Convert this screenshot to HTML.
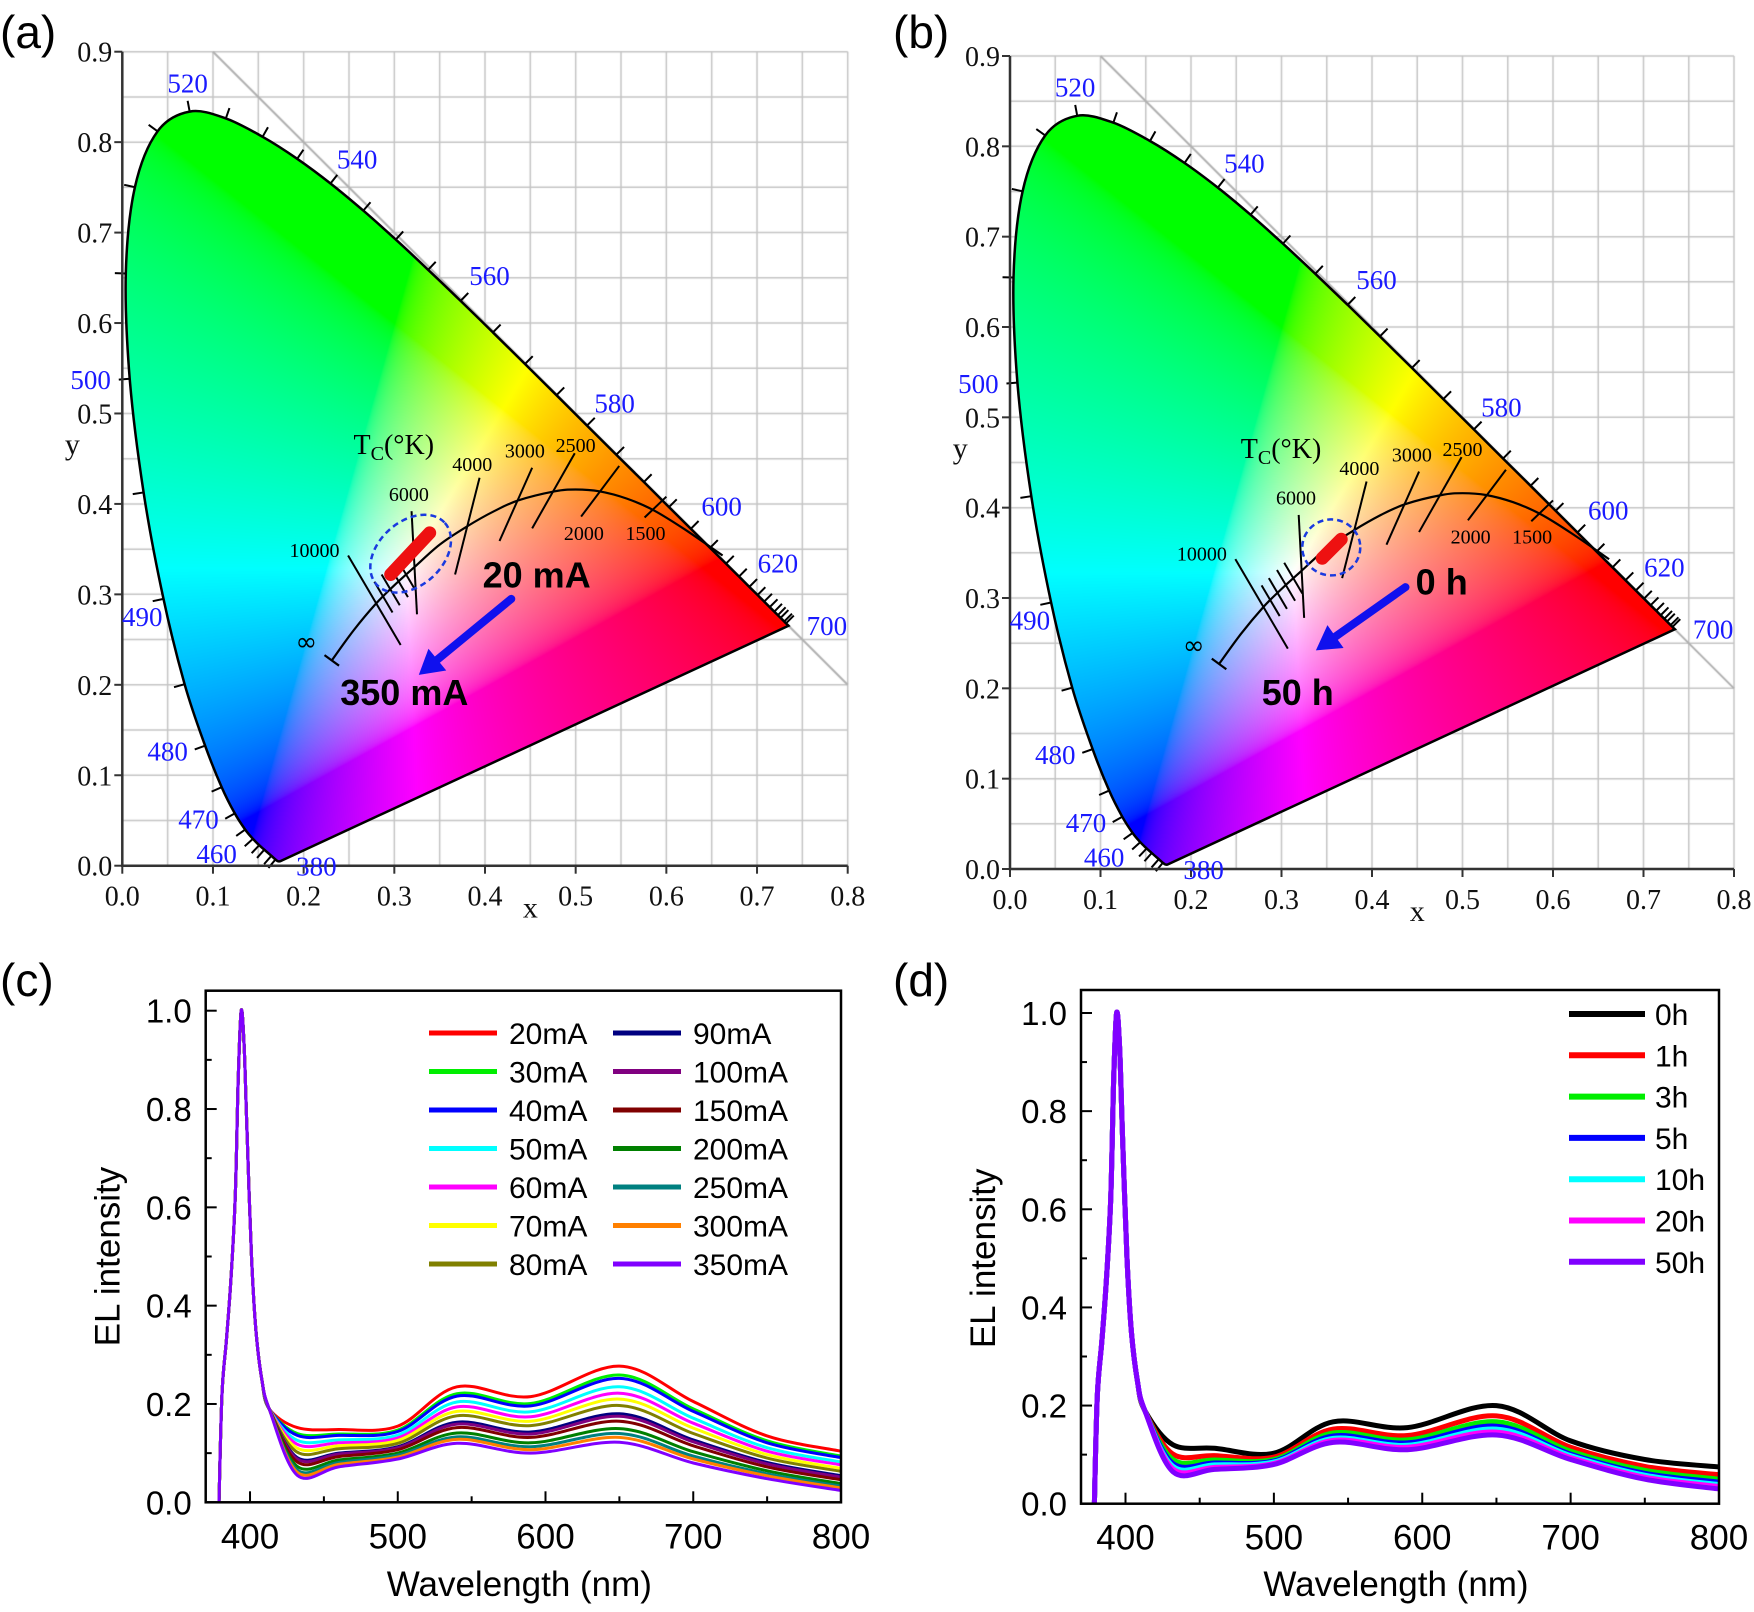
<!DOCTYPE html>
<html><head><meta charset="utf-8">
<style>
html,body{margin:0;padding:0;background:#fff;}
#wrap{position:relative;width:1754px;height:1612px;overflow:hidden;}
#cv{position:absolute;left:0;top:0;}
#sv{position:absolute;left:0;top:0;}
</style></head>
<body>
<div id="wrap">
<canvas id="cv" width="1754" height="1612"></canvas>
<svg id="sv" width="1754" height="1612" xmlns="http://www.w3.org/2000/svg"></svg>
</div>
<script>
// ---------- data: CIE spectral locus ----------
const locusWl = [380,400,420,430,440,450,455,460,465,470,475,480,485,490,495,500,505,510,515,520,525,530,535,540,545,550,555,560,565,570,575,580,585,590,595,600,605,610,615,620,625,630,635,640,645,650,660,670,680,700];
const locusX = [.1741,.1733,.1714,.1689,.1644,.1566,.1510,.1440,.1355,.1241,.1096,.0913,.0687,.0454,.0235,.0082,.0039,.0139,.0389,.0743,.1142,.1547,.1929,.2296,.2658,.3016,.3373,.3731,.4087,.4441,.4788,.5125,.5448,.5752,.6029,.6270,.6482,.6658,.6801,.6915,.7006,.7079,.7140,.7190,.7230,.7260,.7300,.7320,.7334,.7347];
const locusY = [.0050,.0048,.0051,.0069,.0109,.0177,.0227,.0297,.0399,.0578,.0868,.1327,.2007,.2950,.4127,.5384,.6548,.7502,.8120,.8338,.8262,.8059,.7816,.7543,.7243,.6923,.6589,.6245,.5896,.5547,.5202,.4866,.4544,.4242,.3965,.3725,.3514,.3340,.3197,.3083,.2993,.2920,.2859,.2809,.2770,.2740,.2700,.2680,.2666,.2653];
const wlLabels = ['520','540','560','580','600','620','700','500','490','480','470','460','380'];
const wlLabelX = [0.072,0.259,0.405,0.543,0.661,0.723,0.777,-0.035,0.022,0.050,0.084,0.104,0.214];
const wlLabelY = [0.865,0.781,0.652,0.511,0.397,0.334,0.265,0.537,0.275,0.126,0.051,0.013,-0.001];
const planckX = [0.231,0.255,0.280,0.300,0.322,0.350,0.380,0.410,0.437,0.477,0.500,0.526,0.556,0.586,0.620,0.662];
const planckY = [0.227,0.260,0.290,0.310,0.330,0.355,0.375,0.392,0.404,0.414,0.416,0.414,0.406,0.393,0.372,0.343];
const isoLabels = ['10000','6000','4000','3000','2500','2000','1500'];
const isoX1 = [0.249,0.319,0.394,0.452,0.499,0.548,0.600];
const isoY1 = [0.343,0.392,0.429,0.440,0.456,0.442,0.408];
const isoX2 = [0.307,0.325,0.367,0.416,0.452,0.506,0.576];
const isoY2 = [0.244,0.278,0.322,0.359,0.373,0.386,0.385];
const isoLabelX = [0.212,0.316,0.386,0.444,0.500,0.509,0.577];
const isoLabelY = [0.349,0.411,0.444,0.459,0.465,0.368,0.368];
const smallIsoX = [0.288,0.296,0.305,0.313];
const smallIsoY = [0.297,0.305,0.314,0.322];
const barA = [0.296,0.322,0.339,0.368];
const barB = [0.345,0.344,0.366,0.365];
const ellA = [0.318,0.345];
const ellB = [0.355,0.356];
const arrowA = [0.429,0.295,0.327,0.211];
const arrowB = [0.437,0.312,0.338,0.242];

// ---------- data: spectra ----------
const peakWl = [379,381,384,387,390,392,394,396,398,401,404,408,413];
const peakVals = [0,0.22,0.33,0.45,0.62,0.86,1.0,0.93,0.75,0.50,0.35,0.25,0.19];
const sWl = [432,460,500,540,590,650,700,750,800];
const cLabels = ['20mA','30mA','40mA','50mA','60mA','70mA','80mA','90mA','100mA','150mA','200mA','250mA','300mA','350mA'];
const cColors = ['#ff0000','#00ee00','#0000ff','#00ffff','#ff00ff','#ffff00','#808000','#000080','#800080','#800000','#008000','#008080','#ff8000','#8000ff'];
const c20 = [0.152,0.148,0.155,0.235,0.215,0.277,0.205,0.135,0.104];
const c30 = [0.140,0.139,0.147,0.221,0.201,0.259,0.190,0.125,0.094];
const c40 = [0.136,0.136,0.144,0.216,0.196,0.252,0.185,0.121,0.091];
const c50 = [0.126,0.127,0.137,0.204,0.184,0.235,0.171,0.111,0.082];
const c60 = [0.118,0.121,0.131,0.194,0.174,0.222,0.161,0.104,0.076];
const c70 = [0.110,0.115,0.126,0.185,0.165,0.210,0.151,0.097,0.069];
const c80 = [0.102,0.109,0.120,0.176,0.156,0.197,0.140,0.090,0.063];
const c90 = [0.091,0.100,0.113,0.163,0.143,0.180,0.127,0.081,0.054];
const c100 = [0.088,0.098,0.111,0.159,0.139,0.175,0.123,0.078,0.051];
const c150 = [0.082,0.093,0.107,0.152,0.132,0.165,0.115,0.072,0.046];
const c200 = [0.073,0.086,0.100,0.141,0.121,0.150,0.103,0.064,0.038];
const c250 = [0.066,0.081,0.096,0.133,0.113,0.140,0.094,0.058,0.033];
const c300 = [0.061,0.077,0.092,0.128,0.107,0.132,0.088,0.054,0.029];
const c350 = [0.055,0.072,0.088,0.120,0.100,0.122,0.080,0.048,0.024];
const cSeries = [c20,c30,c40,c50,c60,c70,c80,c90,c100,c150,c200,c250,c300,c350];
const dLabels = ['0h','1h','3h','5h','10h','20h','50h'];
const dColors = ['#000000','#ff0000','#00ee00','#0000ff','#00ffff','#ff00ff','#8000ff'];
const d0 = [0.120,0.113,0.103,0.167,0.155,0.200,0.128,0.090,0.075];
const d1 = [0.101,0.098,0.095,0.152,0.139,0.179,0.115,0.076,0.059];
const d3 = [0.090,0.089,0.090,0.144,0.130,0.167,0.107,0.068,0.050];
const d5 = [0.082,0.083,0.087,0.138,0.124,0.158,0.101,0.062,0.044];
const d10 = [0.076,0.079,0.085,0.133,0.119,0.152,0.098,0.058,0.039];
const d20 = [0.071,0.074,0.082,0.129,0.115,0.146,0.094,0.054,0.035];
const d50 = [0.065,0.070,0.080,0.125,0.110,0.140,0.090,0.050,0.030];
const dSeries = [d0,d1,d3,d5,d10,d20,d50];
const yTicks = ['0.0','0.2','0.4','0.6','0.8','1.0'];
const xTicks = ['400','500','600','700','800'];
const cieTicks = ['0.0','0.1','0.2','0.3','0.4','0.5','0.6','0.7','0.8','0.9'];

// ---------- helpers ----------
const NS='http://www.w3.org/2000/svg';
const svg=document.getElementById('sv');
function mk(tag, attrs, parent){const e=document.createElementNS(NS,tag);for(const k in attrs)e.setAttribute(k,attrs[k]);(parent||svg).appendChild(e);return e;}
function txt(s, attrs, parent){const e=mk('text',attrs,parent);e.textContent=s;return e;}
function crPath(pts){let d='M'+pts[0][0].toFixed(1)+','+pts[0][1].toFixed(1);
  for(let i=0;i<pts.length-1;i++){const p0=pts[Math.max(0,i-1)],p1=pts[i],p2=pts[i+1],p3=pts[Math.min(pts.length-1,i+2)];
    const c1=[p1[0]+(p2[0]-p0[0])/6,p1[1]+(p2[1]-p0[1])/6],c2=[p2[0]-(p3[0]-p1[0])/6,p2[1]-(p3[1]-p1[1])/6];
    d+='C'+c1[0].toFixed(1)+','+c1[1].toFixed(1)+' '+c2[0].toFixed(1)+','+c2[1].toFixed(1)+' '+p2[0].toFixed(1)+','+p2[1].toFixed(1);}
  return d;}

// ---------- CIE panels ----------
const cv=document.getElementById('cv');const ctx=cv.getContext('2d');
const panelsCIE=[
 {id:'a',x0:122.3,x8:847.7,y0:865.7,y9:51.7,bar:barA,ell:ellA,ellR:[46,32,-42],arrow:arrowA,t1:'20 mA',t1p:[0.457,0.322],t2:'350 mA',t2p:[0.311,0.192]},
 {id:'b',x0:1010,x8:1734,y0:869,y9:56,bar:barB,ell:ellB,ellR:[29,28,0],arrow:arrowB,t1:'0 h',t1p:[0.477,0.318],t2:'50 h',t2p:[0.318,0.196]}
];
panelsCIE.forEach(P=>{
  const X=v=>P.x0+v*(P.x8-P.x0)/0.8, Y=v=>P.y0-v*(P.y0-P.y9)/0.9;
  ctx.strokeStyle='#c4c4c4';ctx.lineWidth=1.5;
  for(let i=0;i<=16;i++){const x=X(i*0.05);ctx.beginPath();ctx.moveTo(x,Y(0));ctx.lineTo(x,Y(0.9));ctx.stroke();}
  for(let i=0;i<=18;i++){const y=Y(i*0.05);ctx.beginPath();ctx.moveTo(X(0),y);ctx.lineTo(X(0.8),y);ctx.stroke();}
  ctx.strokeStyle='#b0b0b0';ctx.lineWidth=2;ctx.beginPath();ctx.moveTo(X(0.1),Y(0.9));ctx.lineTo(X(0.8),Y(0.2));ctx.stroke();
  const pts=locusX.map((v,i)=>[X(v),Y(locusY[i])]);
  const d=crPath(pts)+'Z';
  const p2=new Path2D(d);
  const minx=Math.floor(X(0)),maxx=Math.ceil(X(0.74)),miny=Math.floor(Y(0.84)),maxy=Math.ceil(Y(0));
  const w=maxx-minx,h=maxy-miny;
  const off=document.createElement('canvas');off.width=w;off.height=h;const oc=off.getContext('2d');
  const img=oc.createImageData(w,h);
  for(let j=0;j<h;j++){for(let i=0;i<w;i++){
    const cx=(minx+i-P.x0)*0.8/(P.x8-P.x0), cy=(P.y0-(miny+j))*0.9/(P.y0-P.y9);
    const yy=Math.max(cy,0.003);
    const Xc=cx/yy, Zc=(1-cx-yy)/yy;
    let r=3.2406*Xc-1.5372-0.4986*Zc, g=-0.9689*Xc+1.8758+0.0415*Zc, b=0.0557*Xc-0.2040+1.0570*Zc;
    r=Math.max(r,0);g=Math.max(g,0);b=Math.max(b,0);
    const m=Math.max(r,g,b)||1;r/=m;g/=m;b/=m;
    const gm=c=>c<=0.0031308?12.92*c:1.055*Math.pow(c,1/2.4)-0.055;
    const k=(j*w+i)*4;img.data[k]=gm(r)*255;img.data[k+1]=gm(g)*255;img.data[k+2]=gm(b)*255;img.data[k+3]=255;}}
  oc.putImageData(img,0,0);
  ctx.save();ctx.clip(p2);ctx.drawImage(off,minx,miny);ctx.restore();

  const g=mk('g',{});
  
  
  const outline=mk('path',{d:d,fill:'none',stroke:'#000','stroke-width':2.5},g);
  
  
  const cxm=X(0.33),cym=Y(0.33);
  for(let i=3;i<locusWl.length-2;i++){
    const a=pts[i-1],b=pts[i+1];let tx=b[0]-a[0],ty=b[1]-a[1];const L=Math.hypot(tx,ty)||1;
    let nx=-ty/L,ny=tx/L;const p=pts[i];if((p[0]-cxm)*nx+(p[1]-cym)*ny<0){nx=-nx;ny=-ny;}
    const t=mk('line',{x1:p[0],y1:p[1],x2:p[0]+nx*11,y2:p[1]+ny*11,stroke:'#000','stroke-width':2},g);
    
    
  }
  const ax=mk('path',{d:`M${X(0)},${Y(0.9)}V${Y(0)}H${X(0.8)}`,fill:'none',stroke:'#333','stroke-width':2.5},g);
  
  
  cieTicks.forEach((s,i)=>{
    const v=i*0.1;
    mk('line',{x1:X(0)-8,y1:Y(v),x2:X(0),y2:Y(v),stroke:'#333','stroke-width':2},g);
    const ty=txt(s,{x:X(0)-10,y:Y(v)+10,'text-anchor':'end','font-family':'Liberation Serif, serif','font-size':28,fill:'#111'},g);
    
    
    if(v<=0.8){mk('line',{x1:X(v),y1:Y(0),x2:X(v),y2:Y(0)+8,stroke:'#333','stroke-width':2},g);
      const tx=txt(s,{x:X(v),y:Y(0)+40,'text-anchor':'middle','font-family':'Liberation Serif, serif','font-size':28,fill:'#111'},g);
      
      }
  });
  const xt=txt('x',{x:X(0.45),y:Y(0)+52,'text-anchor':'middle','font-family':'Liberation Serif, serif','font-size':30,fill:'#111'},g);
  
  
  const yt=txt('y',{x:X(-0.055),y:Y(0.455),'text-anchor':'middle','font-family':'Liberation Serif, serif','font-size':30,fill:'#111'},g);
  
  
  wlLabels.forEach((s,i)=>{
    const t=txt(s,{x:X(wlLabelX[i]),y:Y(wlLabelY[i])+9,'text-anchor':'middle','font-family':'Liberation Serif, serif','font-size':27,fill:'#1a1aff'},g);
    
    
  });
  const pl=mk('path',{d:crPath(planckX.map((v,i)=>[X(v),Y(planckY[i])])),fill:'none',stroke:'#000','stroke-width':2.2},g);
  
  
  const dx=X(planckX[1])-X(planckX[0]),dy=Y(planckY[1])-Y(planckY[0]);const Ld=Math.hypot(dx,dy);
  mk('line',{x1:X(planckX[0])-dy/Ld*9,y1:Y(planckY[0])+dx/Ld*9,x2:X(planckX[0])+dy/Ld*9,y2:Y(planckY[0])-dx/Ld*9,stroke:'#000','stroke-width':2.2},g);
  const inf=txt('∞',{x:X(0.203),y:Y(0.249)+10,'text-anchor':'middle','font-family':'DejaVu Sans, sans-serif','font-size':26,fill:'#000'},g);
  
  
  isoLabels.forEach((s,i)=>{
    const l=mk('line',{x1:X(isoX1[i]),y1:Y(isoY1[i]),x2:X(isoX2[i]),y2:Y(isoY2[i]),stroke:'#000','stroke-width':2},g);
    
    
    const t=txt(s,{x:X(isoLabelX[i]),y:Y(isoLabelY[i])+7,'text-anchor':'middle','font-family':'Liberation Serif, serif','font-size':20,fill:'#000'},g);
    
    
  });
  smallIsoX.forEach((v,i)=>{
    const l=mk('line',{x1:X(v-0.010),y1:Y(smallIsoY[i]+0.017),x2:X(v+0.010),y2:Y(smallIsoY[i]-0.017),stroke:'#000','stroke-width':2},g);
    
    
  });
  const tc=txt('T',{x:X(0.255),y:Y(0.465)+9,'font-family':'Liberation Serif, serif','font-size':28,fill:'#000'},g);
  const ts=mk('tspan',{'font-size':20,dy:6},tc);ts.textContent='C';
  const ts2=mk('tspan',{'font-size':28,dy:-6},tc);ts2.textContent='(°K)';
  
  
  const el=mk('ellipse',{cx:X(P.ell[0]),cy:Y(P.ell[1]),rx:P.ellR[0],ry:P.ellR[1],transform:`rotate(${P.ellR[2]} ${X(P.ell[0])} ${Y(P.ell[1])})`,fill:'none',stroke:'#1a3adf','stroke-width':2.5,'stroke-dasharray':'6,4'},g);
  
  
  const bar=mk('line',{x1:X(P.bar[0]),y1:Y(P.bar[1]),x2:X(P.bar[2]),y2:Y(P.bar[3]),stroke:'#ee1111','stroke-width':13,'stroke-linecap':'round'},g);
  
  
  const ax1=X(P.arrow[0]),ay1=Y(P.arrow[1]),ax2=X(P.arrow[2]),ay2=Y(P.arrow[3]);
  const ux=(ax2-ax1),uy=(ay2-ay1),UL=Math.hypot(ux,uy),ex=ux/UL,ey=uy/UL;
  const bx=ax2-ex*24,by=ay2-ey*24;
  const ar=mk('line',{x1:ax1,y1:ay1,x2:bx,y2:by,stroke:'#1010ee','stroke-width':8,'stroke-linecap':'round'},g);
  
  
  const ah=mk('polygon',{points:`${ax2},${ay2} ${bx-ey*14},${by+ex*14} ${bx+ey*14},${by-ex*14}`,fill:'#1010ee'},g);
  
  
  const t1=txt(P.t1,{x:X(P.t1p[0]),y:Y(P.t1p[1])+13,'text-anchor':'middle','font-family':'Liberation Sans, sans-serif','font-weight':'bold','font-size':36,fill:'#000'},g);
  
  
  const t2=txt(P.t2,{x:X(P.t2p[0]),y:Y(P.t2p[1])+13,'text-anchor':'middle','font-family':'Liberation Sans, sans-serif','font-weight':'bold','font-size':36,fill:'#000'},g);
  
  
});

// ---------- spectra panels ----------
const panelsSp=[
 {id:'c',l:205.7,r:841,t:990.7,b:1502.3,y1:1010.7,series:cSeries,colors:cColors,labels:cLabels,lw:3},
 {id:'d',l:1081,r:1719,t:990,b:1503.7,y1:1013,series:dSeries,colors:dColors,labels:dLabels,lw:5}
];
panelsSp.forEach(P=>{
  const X=v=>P.l+(v-370)*(P.r-P.l)/430, Y=v=>P.b-v*(P.b-P.y1);
  const g=mk('g',{});
  
  
  const cp=mk('clipPath',{id:'clip'+P.id},g);mk('rect',{x:P.l,y:P.t,width:P.r-P.l,height:P.b-P.t},cp);
  const sg=mk('g',{'clip-path':`url(#clip${P.id})`},g);
  P.series.forEach((s,k)=>{
    const pts=peakWl.map((w,i)=>[X(w),Y(peakVals[i])]).concat(sWl.map((w,i)=>[X(w),Y(s[i])]));
    const p=mk('path',{d:crPath(pts),fill:'none',stroke:P.colors[k],'stroke-width':P.lw,'stroke-linejoin':'round'},sg);
    
    
  });
  const fr=mk('rect',{x:P.l,y:P.t,width:P.r-P.l,height:P.b-P.t,fill:'none',stroke:'#000','stroke-width':2.5},g);
  
  
  for(let i=0;i<=10;i++){const v=i*0.1,len=i%2==0?11:6;
    mk('line',{x1:P.l,y1:Y(v),x2:P.l+len,y2:Y(v),stroke:'#000','stroke-width':2},g);}
  yTicks.forEach((s,i)=>{const t=txt(s,{x:P.l-14,y:Y(i*0.2)+12,'text-anchor':'end','font-family':'Liberation Sans, sans-serif','font-size':33,fill:'#000'},g);
    
    });
  for(let w=400;w<=800;w+=50){const len=w%100==0?11:6;mk('line',{x1:X(w),y1:P.b,x2:X(w),y2:P.b-len,stroke:'#000','stroke-width':2},g);}
  xTicks.forEach((s,i)=>{const t=txt(s,{x:X(400+i*100),y:P.b+46,'text-anchor':'middle','font-family':'Liberation Sans, sans-serif','font-size':35,fill:'#000'},g);
    
    });
  const xt=txt('Wavelength (nm)',{x:(P.l+P.r)/2-4,y:1596,'text-anchor':'middle','font-family':'Liberation Sans, sans-serif','font-size':35,fill:'#000'},g);
  
  
  const yx=P.l-86, yc=(P.y1+P.b)/2;
  const yt=txt('EL intensity',{x:yx,y:yc,'text-anchor':'middle','font-family':'Liberation Sans, sans-serif','font-size':35,fill:'#000',transform:`rotate(-90 ${yx} ${yc})`},g);
  
  
  P.labels.forEach((s,k)=>{
    let lx,ly;
    if(P.id==='c'){const col=k<7?0:1,row=k%7;lx=col?613:429;ly=1033+row*38.5;}
    else{lx=1569;ly=1014+k*41.3;}
    const ln=mk('line',{x1:lx,y1:ly,x2:lx+(P.id==='c'?68:76),y2:ly,stroke:P.colors[k],'stroke-width':P.id==='c'?5:6},g);
    
    
    const t=txt(s,{x:lx+(P.id==='c'?80:86),y:ly+11,'font-family':'Liberation Sans, sans-serif','font-size':30,fill:'#000'},g);
    
    
  });
});
[['(a)',0,48],['(b)',893,48],['(c)',0,996],['(d)',893,996]].forEach(a=>{
  const t=txt(a[0],{x:a[1],y:a[2],'font-family':'Liberation Sans, sans-serif','font-size':46,fill:'#000'});
  
  
});
</script>
</body></html>
